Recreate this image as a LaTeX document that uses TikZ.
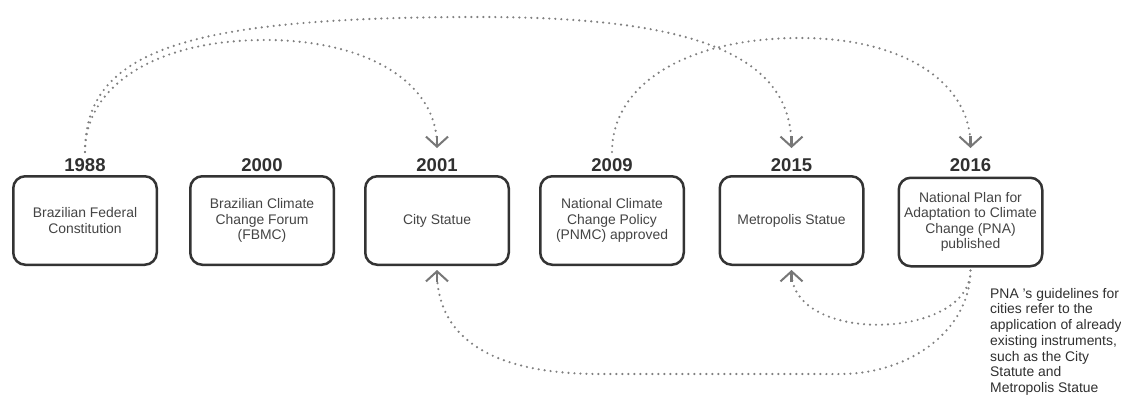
\documentclass[tikz,border=0pt]{standalone}
\usepackage{fontspec}
\setmainfont{Liberation Sans}
\usetikzlibrary{arrows.meta}
\definecolor{boxline}{HTML}{333333}
\definecolor{boxtext}{HTML}{444444}
\definecolor{yeartext}{HTML}{303030}
\definecolor{dotline}{HTML}{808080}
\definecolor{tipline}{HTML}{777777}
\begin{document}
\begin{tikzpicture}[x=1pt,y=-1pt,
  eventbox/.style={draw=boxline, line width=2.5pt, rounded corners=12pt,
    minimum width=143.5pt, minimum height=88.5pt, inner sep=2pt,
    align=center, text=boxtext, font=\fontsize{13.9}{15.3}\selectfont},
  yearlabel/.style={anchor=south, inner sep=0pt, text=yeartext,
    font=\fontsize{18.5}{20}\selectfont\bfseries},
  link/.style={draw=dotline, line width=2.4pt, line cap=round,
    dash pattern=on 0pt off 6pt,
    -{Rectangle[length=9pt,width=2pt,sep=-9pt,color=tipline]
      Straight Barb[length=10pt,width=22pt,line width=2pt,color=tipline]}},
  note/.style={anchor=north west, inner sep=0pt, align=left, text=yeartext,
    font=\fontsize{13.9}{15.7}\selectfont}]
\useasboundingbox[fill=white] (0,0) rectangle (1121,396);

% timeline boxes
\node[eventbox] (b1988) at (85,220.5) {Brazilian Federal\\Constitution};
\node[eventbox] (b2000) at (262,220.5) {Brazilian Climate\\Change Forum\\(FBMC)};
\node[eventbox] (b2001) at (437,220.5) {City Statue};
\node[eventbox] (b2009) at (612,220.5) {National Climate\\Change Policy\\(PNMC) approved};
\node[eventbox] (b2015) at (791.5,220.5) {Metropolis Statue};
\node[eventbox] (b2016) at (970.5,222) {National Plan for\\Adaptation to Climate\\Change (PNA)\\published};

% years
\node[yearlabel] (y1988) at (85,171.5) {1988};
\node[yearlabel] (y2000) at (262,171.5) {2000};
\node[yearlabel] (y2001) at (437,171.5) {2001};
\node[yearlabel] (y2009) at (612,171.5) {2009};
\node[yearlabel] (y2015) at (791.5,171.5) {2015};
\node[yearlabel] (y2016) at (970.5,171.5) {2016};

% note
\node[note] (note) at (990,288) {PNA 's guidelines for\\cities refer to the\\application of already\\existing instruments,\\such as the City\\Statute and\\Metropolis Statue};

% upper links
\draw[link, shorten <=6pt, shorten >=10pt] (y1988.north)
  .. controls (85,85) and (157,40) .. (265,40)
  .. controls (368,40) and (437,83) .. (y2001.north);
\draw[link, shorten <=6pt, shorten >=10pt] (y1988.north)
  .. controls (85,51) and (184,17) .. (480,17)
  .. controls (697,17) and (791.5,56) .. (y2015.north);
\draw[link, shorten <=6pt, shorten >=10pt] (y2009.north)
  .. controls (612,84) and (687,38) .. (800,38)
  .. controls (903,38) and (970.5,82) .. (y2016.north);

% lower links
\draw[link, shorten <=3pt, shorten >=4pt] (b2016.south)
  .. controls (970.5,340) and (791.5,345) .. (b2015.south);
\draw[link, shorten <=3pt, shorten >=4pt] (b2016.south)
  .. controls (970,330) and (910,374) .. (840,374) -- (600,374)
  .. controls (480,374) and (437,330) .. (b2001.south);
\end{tikzpicture}
\end{document}
